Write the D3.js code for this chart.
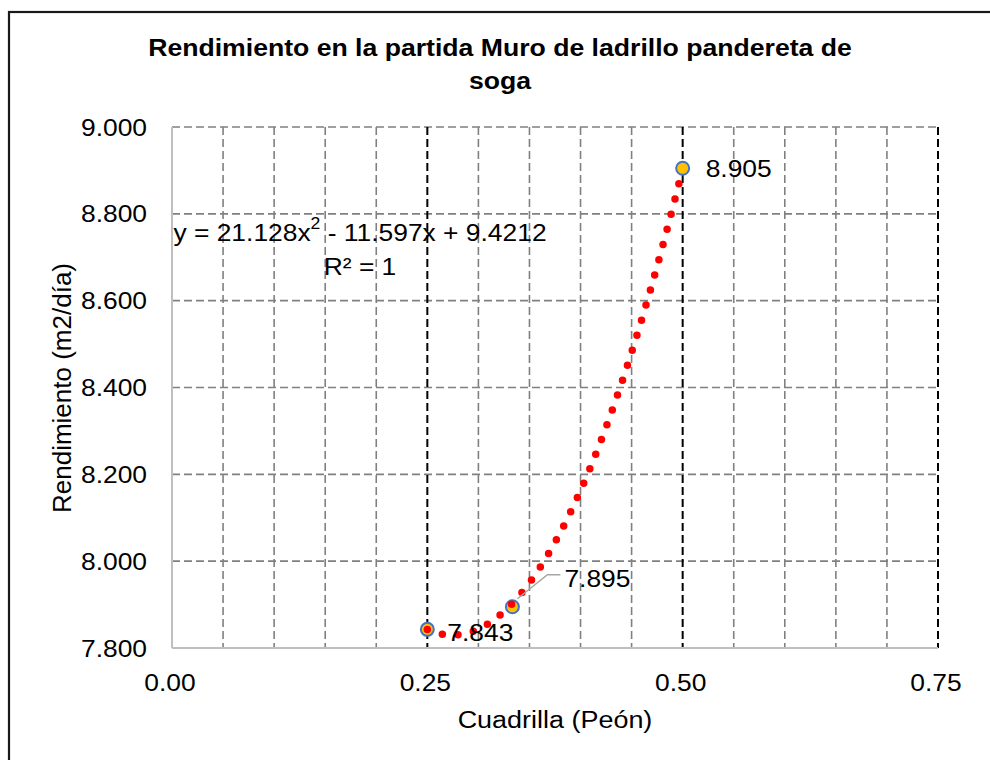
<!DOCTYPE html>
<html>
<head>
<meta charset="utf-8">
<script src="https://cdn.jsdelivr.net/npm/d3@7"></script>
<style>
  html, body { margin: 0; padding: 0; background: #fff; }
  svg { display: block; }
  text { font-family: "Liberation Sans", Arial, sans-serif; fill: #000; }
</style>
</head>
<body>
<svg id="chart" width="990" height="760"></svg>
<script>
// ---- Data ----
const cuadrilla = [0.25, 0.3333, 0.5];
const rendimiento = [7.843, 7.895, 8.905];
const pointLabels = ["7.843", "7.895", "8.905"];
const trendCoef = [21.128, -11.597, 9.4212]; // a, b, c of y = a x^2 + b x + c
const xTicks = [0, 0.25, 0.5, 0.75];
const xTickLabels = ["0.00", "0.25", "0.50", "0.75"];
const xMinor = [0.05, 0.1, 0.15, 0.2, 0.3, 0.35, 0.4, 0.45, 0.55, 0.6, 0.65, 0.7];
const yTicks = [7.8, 8.0, 8.2, 8.4, 8.6, 8.8, 9.0];
const yTickLabels = ["7.800", "8.000", "8.200", "8.400", "8.600", "8.800", "9.000"];
const titleLines = ["Rendimiento en la partida Muro de ladrillo pandereta de", "soga"];
const xTitle = "Cuadrilla (Peón)";
const yTitle = "Rendimiento (m2/día)";

const SX = 1.1; // horizontal text stretch
const svg = d3.select("#chart");
const L = 172, R = 938, T = 127, B = 648;
const x = d3.scaleLinear().domain([0, 0.75]).range([L, R]);
const y = d3.scaleLinear().domain([7.8, 9.0]).range([B, T]);

function stretchedText(parent, px, py, str, size, anchor, bold) {
  const t = parent.append("text")
    .attr("transform", `translate(${px},${py}) scale(${SX},1)`)
    .attr("text-anchor", anchor).attr("dominant-baseline", "central")
    .attr("font-size", size).text(str);
  if (bold) t.attr("font-weight", "bold");
  return t;
}

// outer frame
svg.append("rect").attr("x", 9).attr("y", 12).attr("width", 1100).attr("height", 900)
  .attr("fill", "none").attr("stroke", "#1a1a1a").attr("stroke-width", 2.2);

// title
titleLines.forEach((s, i) => stretchedText(svg, 500, 47 + i * 33, s, 24.2, "middle", true));

// horizontal gridlines
svg.append("g").selectAll("line").data(yTicks.filter(v => v > 7.8)).join("line")
  .attr("x1", L).attr("x2", R).attr("y1", d => y(d)).attr("y2", d => y(d))
  .attr("stroke", "#808080").attr("stroke-width", 1.6).attr("stroke-dasharray", "8,4");

// minor vertical gridlines
svg.append("g").selectAll("line").data(xMinor).join("line")
  .attr("x1", d => x(d)).attr("x2", d => x(d)).attr("y1", T).attr("y2", B)
  .attr("stroke", "#808080").attr("stroke-width", 1.6).attr("stroke-dasharray", "8,4");

// major vertical gridlines
svg.append("g").selectAll("line").data(xTicks.filter(v => v > 0)).join("line")
  .attr("x1", d => x(d)).attr("x2", d => x(d)).attr("y1", T).attr("y2", B)
  .attr("stroke", "#000").attr("stroke-width", 2).attr("stroke-dasharray", "8,4");

// axes lines
svg.append("line").attr("x1", L).attr("x2", L).attr("y1", T).attr("y2", B)
  .attr("stroke", "#bfbfbf").attr("stroke-width", 2);
svg.append("line").attr("x1", L).attr("x2", R).attr("y1", B).attr("y2", B)
  .attr("stroke", "#bfbfbf").attr("stroke-width", 2);

// y tick labels
const gy = svg.append("g");
yTicks.forEach((v, i) => stretchedText(gy, L - 25, y(v), yTickLabels[i], 24, "end", false));

// x tick labels
const gx = svg.append("g");
xTicks.forEach((v, i) => stretchedText(gx, x(v) - 2, B + 34, xTickLabels[i], 24, "middle", false));

// axis titles
stretchedText(svg, 555, 719, xTitle, 24.5, "middle", false);
svg.append("text").attr("transform", "translate(62,388) rotate(-90)").attr("text-anchor", "middle")
  .attr("dominant-baseline", "central").attr("font-size", 26).text(yTitle);

// markers
svg.append("g").selectAll("circle").data(cuadrilla).join("circle")
  .attr("cx", d => x(d)).attr("cy", (d, i) => y(rendimiento[i])).attr("r", 6.5)
  .attr("fill", "#ffc000").attr("stroke", "#4472c4").attr("stroke-width", 2);

// polynomial trendline (round dots)
const trendX = d3.range(0, 201).map(i => 0.25 + (0.5 - 0.25) * i / 200);
const poly = v => trendCoef[0] * v * v + trendCoef[1] * v + trendCoef[2];
const trend = svg.append("path")
  .attr("d", d3.line().x(d => x(d)).y(d => y(poly(d)))(trendX))
  .attr("fill", "none").attr("stroke", "#ff0000").attr("stroke-width", 7.5)
  .attr("stroke-linecap", "round");
const len = trend.node().getTotalLength();
const gap = len / Math.round(len / 15.6);
trend.attr("stroke-dasharray", `0,${gap}`);

// leader line for 7.895
const p1 = [x(cuadrilla[1]), y(rendimiento[1])];
svg.append("polyline")
  .attr("points", [[p1[0] + 5, p1[1] - 8], [p1[0] + 35, p1[1] - 32], [p1[0] + 48, p1[1] - 32]].map(p => p.join(",")).join(" "))
  .attr("fill", "none").attr("stroke", "#a6a6a6").attr("stroke-width", 1.5);

// data labels
const labelOffsets = [[20, 3], [52, -28], [23, 0]];
const gl = svg.append("g");
pointLabels.forEach((s, i) =>
  stretchedText(gl, x(cuadrilla[i]) + labelOffsets[i][0], y(rendimiento[i]) + labelOffsets[i][1], s, 24, "start", false));

// trendline equation
const eq = stretchedText(svg, 360, 232, "", 24, "middle", false);
eq.append("tspan").text("y = 21.128x");
eq.append("tspan").attr("font-size", 16).attr("dy", -9).text("2");
eq.append("tspan").attr("dy", 9).text(" - 11.597x + 9.4212");
stretchedText(svg, 360, 266, "R² = 1", 24, "middle", false);
</script>
</body>
</html>
